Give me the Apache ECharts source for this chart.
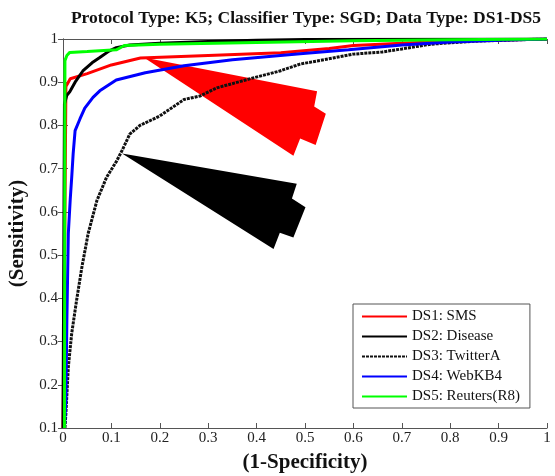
<!DOCTYPE html>
<html>
<head>
<meta charset="utf-8">
<script src="https://cdn.jsdelivr.net/npm/echarts@6/dist/echarts.min.js"></script>
<style>html,body{margin:0;padding:0;background:#fff;}#c{width:555px;height:476px;}</style>
</head>
<body>
<div id="c"></div>
<script>
// ---- data ----
const seriesNames = ['DS1: SMS', 'DS2: Disease', 'DS3: TwitterA', 'DS4: WebKB4', 'DS5: Reuters(R8)'];

const ds1X = [0, 0.004, 0.006, 0.015, 0.05, 0.1, 0.16, 0.3, 0.45, 0.55, 0.6, 0.7, 0.8, 1];
const ds1Y = [0.1, 0.6, 0.89, 0.908, 0.92, 0.94, 0.956, 0.962, 0.968, 0.978, 0.985, 0.99, 0.995, 1];

const ds2X = [0, 0.003, 0.008, 0.014, 0.025, 0.041, 0.06, 0.076, 0.095, 0.11, 0.138, 0.2, 0.3, 0.4, 0.5, 1];
const ds2Y = [0.1, 0.85, 0.87, 0.878, 0.9, 0.926, 0.945, 0.957, 0.972, 0.98, 0.986, 0.99, 0.994, 0.997, 0.999, 1];

const ds3X = [0.004, 0.006, 0.011, 0.018, 0.028, 0.039, 0.052, 0.07, 0.09, 0.111, 0.122, 0.138, 0.159, 0.2, 0.25, 0.283, 0.318, 0.393, 0.448, 0.49, 0.558, 0.6, 0.66, 0.7, 0.76, 0.85, 1];
const ds3Y = [0.1, 0.134, 0.241, 0.319, 0.395, 0.472, 0.55, 0.626, 0.68, 0.718, 0.742, 0.78, 0.8, 0.822, 0.86, 0.868, 0.887, 0.91, 0.926, 0.942, 0.956, 0.965, 0.97, 0.977, 0.988, 0.995, 1];

const ds4X = [0.003, 0.006, 0.008, 0.011, 0.015, 0.018, 0.021, 0.025, 0.035, 0.045, 0.062, 0.076, 0.11, 0.17, 0.25, 0.35, 0.49, 0.59, 0.7, 0.8, 0.9, 1];
const ds4Y = [0.1, 0.165, 0.35, 0.55, 0.63, 0.68, 0.735, 0.788, 0.815, 0.84, 0.865, 0.88, 0.905, 0.922, 0.938, 0.952, 0.966, 0.975, 0.986, 0.993, 0.997, 1];

const ds5X = [0.003, 0.004, 0.008, 0.014, 0.05, 0.11, 0.127, 0.2, 0.4, 0.6, 0.8, 1];
const ds5Y = [0.1, 0.95, 0.962, 0.969, 0.971, 0.975, 0.985, 0.988, 0.992, 0.996, 0.998, 1];

// annotation arrows (data coordinates)
const redArrowX = [0.167, 0.525, 0.519, 0.543, 0.522, 0.49, 0.476];
const redArrowY = [0.957, 0.879, 0.844, 0.827, 0.755, 0.770, 0.730];
const blackArrowX = [0.122, 0.483, 0.473, 0.501, 0.476, 0.448, 0.435];
const blackArrowY = [0.735, 0.665, 0.631, 0.611, 0.541, 0.552, 0.514];

const xTicks = [0, 0.1, 0.2, 0.3, 0.4, 0.5, 0.6, 0.7, 0.8, 0.9, 1];
const yTicks = [0.1, 0.2, 0.3, 0.4, 0.5, 0.6, 0.7, 0.8, 0.9, 1];

// ---- build ----
const zip = (xs, ys) => xs.map((x, i) => [x, ys[i]]);
const serif = 'Liberation Serif';
const colors = ['#ff0000', '#000000', '#111111', '#0000ff', '#00ff00'];
const lineData = [zip(ds1X, ds1Y), zip(ds2X, ds2Y), zip(ds3X, ds3Y), zip(ds4X, ds4Y), zip(ds5X, ds5Y)];
const arrows = [
  { xs: redArrowX, ys: redArrowY, color: '#ff0000' },
  { xs: blackArrowX, ys: blackArrowY, color: '#000000' }
];

const fmt = v => String(+(+v).toFixed(1));

const baseAxis = {
  axisLine: { show: true, lineStyle: { color: '#555', width: 1 } },
  axisTick: { show: true, inside: true, length: 5, lineStyle: { color: '#555' } },
  splitLine: { show: false }
};

const chart = echarts.init(document.getElementById('c'), null, { renderer: 'canvas' });
chart.setOption({
  animation: false,
  backgroundColor: '#fff',
  title: {
    text: 'Protocol Type: K5; Classifier Type: SGD; Data Type: DS1-DS5',
    left: 301, textAlign: 'center', top: 4,
    textStyle: { fontFamily: serif, fontWeight: 'bold', fontSize: 17.5, color: '#111' }
  },
  grid: { left: 63, right: 8, top: 39, bottom: 48, outerBoundsMode: 'none', containLabel: false },
  legend: {
    data: seriesNames,
    orient: 'vertical',
    left: 353, top: 304,
    itemWidth: 45, itemHeight: 14, itemGap: 5,
    padding: [5, 10, 4, 8],
    borderColor: '#555', borderWidth: 1, backgroundColor: '#fff',
    itemStyle: { opacity: 0 },
    textStyle: { fontFamily: serif, fontSize: 15, color: '#111' }
  },
  xAxis: [
    Object.assign({}, baseAxis, {
      type: 'value', min: 0, max: 1, interval: 0.1, position: 'bottom',
      name: '(1-Specificity)', nameLocation: 'middle', nameGap: 24,
      nameTextStyle: { fontFamily: serif, fontWeight: 'bold', fontSize: 21, color: '#111' },
      axisLabel: { fontFamily: serif, fontSize: 15, color: '#222', margin: 3, formatter: fmt,
        customValues: xTicks }
    }),
    Object.assign({}, baseAxis, {
      type: 'value', min: 0, max: 1, interval: 0.1, position: 'top',
      axisLabel: { show: false }
    })
  ],
  yAxis: [
    Object.assign({}, baseAxis, {
      type: 'value', min: 0.1, max: 1, interval: 0.1, position: 'left',
      name: '(Sensitivity)', nameLocation: 'middle', nameGap: 25,
      nameTextStyle: { fontFamily: serif, fontWeight: 'bold', fontSize: 21, color: '#111' },
      axisLabel: { fontFamily: serif, fontSize: 15, color: '#222', margin: 5, formatter: fmt,
        customValues: yTicks }
    }),
    Object.assign({}, baseAxis, {
      type: 'value', min: 0.1, max: 1, interval: 0.1, position: 'right',
      axisLabel: { show: false }
    })
  ],
  series: [
    {
      type: 'custom', name: 'arrows', xAxisIndex: 0, yAxisIndex: 0, silent: true, z: 1,
      data: arrows.map((a, i) => [i]),
      renderItem: function (params, api) {
        const a = arrows[api.value(0)];
        const pts = a.xs.map((x, i) => api.coord([x, a.ys[i]]));
        return { type: 'polygon', shape: { points: pts }, style: { fill: a.color } };
      }
    }
  ].concat(seriesNames.map((n, i) => ({
    type: 'line', name: n, data: lineData[i], symbol: 'none', showSymbol: false, z: 3 + i,
    lineStyle: i === 2
      ? { color: colors[i], width: 3, type: [3, 1] }
      : { color: colors[i], width: 3 },
    itemStyle: { color: colors[i] }
  })))
});
</script>
</body>
</html>
